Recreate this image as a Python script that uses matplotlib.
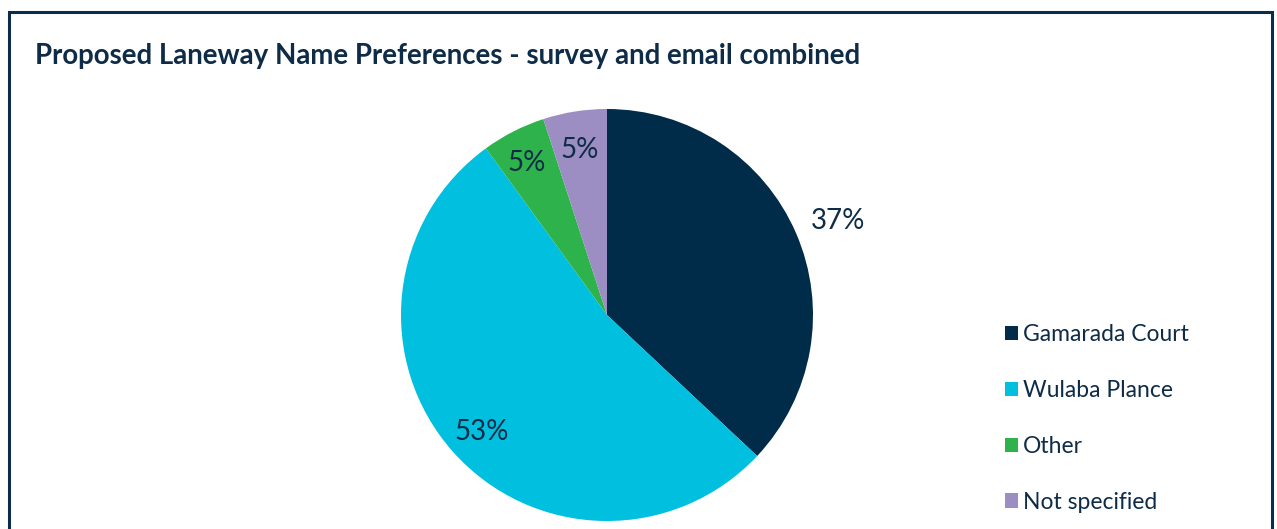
import numpy as np
import matplotlib.pyplot as plt
from matplotlib.patches import Patch, Rectangle

labels = ['Gamarada Court', 'Wulaba Plance', 'Other', 'Not specified']
values = [37, 53, 5, 5]
colors = ['#002B49', '#00BFDF', '#2EB24B', '#9C8DC3']
label_dist = [1.22, 0.81, 0.86, 0.84]

text_col = '#0E2C47'
plt.rcParams['font.family'] = ['Lato', 'DejaVu Sans']

W, H = 1277, 529
fig = plt.figure(figsize=(W / 100, H / 100), dpi=100)

# outer frame
fig.patches.append(Rectangle((9 / W, -0.05), 1263 / W, (H - 12) / H + 0.05,
                             transform=fig.transFigure, fill=False,
                             edgecolor='#0B2D4A', linewidth=2.2))

fig.text(35 / W, 1 - 56 / H, 'Proposed Laneway Name Preferences - survey and email combined',
         fontsize=19.9, fontweight='bold', color=text_col, va='center', ha='left')

# pie axes: centre (607, 315), radius 206 px
r = 206
ax = fig.add_axes([(607 - r) / W, (H - 315 - r) / H, 2 * r / W, 2 * r / H])
wedges, _ = ax.pie(values, colors=colors, startangle=90, counterclock=False,
                   radius=1, wedgeprops=dict(linewidth=0))
ax.set_xlim(-1, 1)
ax.set_ylim(-1, 1)

total = sum(values)
for w, v, d in zip(wedges, values, label_dist):
    ang = np.deg2rad((w.theta1 + w.theta2) / 2)
    ax.text(d * np.cos(ang), d * np.sin(ang) - 0.03, f'{round(100 * v / total)}%',
            ha='center', va='center', fontsize=20, color=text_col)

handles = [Patch(facecolor=c, edgecolor='none') for c in colors]
fig.legend(handles, labels, loc='upper left', bbox_to_anchor=(996 / W, 1 - 315 / H),
           frameon=False, fontsize=16.5, labelcolor=text_col,
           handlelength=0.58, handleheight=0.58, handletextpad=0.2,
           labelspacing=1.52, borderaxespad=0)

fig.savefig('out.png', dpi=100)
